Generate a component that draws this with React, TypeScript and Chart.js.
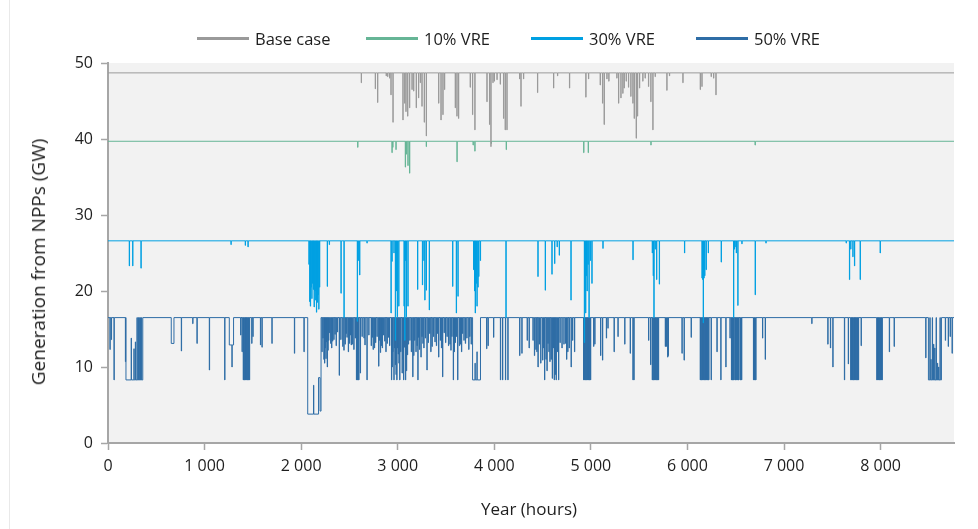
import React, { useEffect, useRef } from "react";
import { Chart, registerables } from "chart.js";

Chart.register(...registerables);

const HOURS = 8760;
const SPIKE_HOURS = 3;

const SERIES_NAMES = ["Base case", "10% VRE", "30% VRE", "50% VRE"];
const SERIES_COLORS = ["#9a9a9a", "#66b596", "#00a0e2", "#2e6da6"];
const BASE_LEVELS = [48.7, 39.7, 26.6, 16.5];

const X_TICKS = [0, 1000, 2000, 3000, 4000, 5000, 6000, 7000, 8000];
const Y_TICKS = [0, 10, 20, 30, 40, 50];

const X_TITLE = "Year (hours)";
const Y_TITLE = "Generation from NPPs (GW)";

// [hour, value] = short dip; [startHour, endHour, value] = sustained level
type Ev = number[];

const BASE_CASE_DIPS: Ev[] = [
  [2622, 47.4], [2767, 46.6], [2791, 44.8], [2880, 48.3], [2895, 48.2], [2915, 48.0], [2929, 45.8], [2950, 42.2],
  [3053, 42.5], [3071, 44.7], [3084, 43.6], [3102, 43.0], [3122, 44.1], [3147, 46.5], [3164, 46.3], [3191, 44.1],
  [3215, 45.4], [3233, 47.4], [3250, 44.3], [3274, 42.2], [3295, 40.4],
  [3423, 44.7], [3447, 42.5], [3467, 43.2], [3484, 46.5],
  [3595, 44.1], [3612, 43.0], [3629, 42.7],
  [3750, 46.8], [3774, 43.2], [3798, 41.2],
  [3923, 44.9], [3950, 41.9], [3964, 39.0], [3985, 47.4], [3999, 47.6], [4027, 47.8], [4061, 47.2],
  [4095, 42.7], [4112, 41.2], [4130, 41.2],
  [4261, 47.9], [4275, 44.3], [4302, 47.9],
  [4447, 46.1], [4613, 46.7], [4654, 48.3], [4778, 46.7],
  [4947, 45.5], [4975, 47.9],
  [5096, 47.1], [5120, 44.7], [5137, 41.9], [5165, 47.9], [5185, 47.6],
  [5268, 48.0], [5286, 44.7], [5310, 45.4], [5330, 46.0], [5344, 46.7], [5365, 47.6], [5389, 46.8],
  [5413, 45.6], [5434, 44.7], [5448, 42.7], [5469, 40.1], [5482, 43.0], [5503, 46.7],
  [5537, 47.6], [5561, 48.0], [5596, 46.9], [5620, 44.9], [5641, 41.2], [5665, 48.2],
  [5786, 46.4], [5813, 48.3], [5952, 47.4], [6132, 46.5], [6149, 46.9], [6245, 48.2], [6270, 48.0], [6294, 45.8],
];

const VRE10_DIPS: Ev[] = [
  [2585, 38.9], [2940, 38.2], [2948, 38.9], [2981, 38.6], [3078, 36.3], [3090, 38.0], [3105, 36.5], [3122, 35.5],
  [3295, 39.0], [3613, 37.0], [3780, 39.2], [3798, 38.4], [3968, 39.4], [4123, 38.6], [4925, 38.2], [4972, 38.2],
  [5621, 39.2], [6700, 39.2],
];

const VRE30_DIPS: Ev[] = [
  [220, 23.3], [255, 23.3], [341, 23.0], [1273, 26.1], [1421, 26.0], [1449, 25.8],
  [2080, 23.5], [2088, 18.6], [2095, 18.0], [2102, 20.5], [2110, 19.0], [2118, 21.0], [2126, 20.2], [2134, 17.9],
  [2142, 20.0], [2150, 18.8], [2158, 17.2], [2166, 18.5], [2174, 19.5], [2182, 17.6], [2190, 20.5],
  [2270, 20.6], [2291, 26.1], [2412, 19.7], [2443, 16.5], [2581, 16.0], [2590, 24.0], [2605, 22.1], [2681, 26.3],
  [2930, 17.1], [2940, 23.9], [2960, 25.0], [2975, 13.5], [2985, 20.0], [2995, 16.6], [3010, 18.0],
  [3065, 18.0], [3072, 13.5], [3080, 24.0], [3088, 16.6], [3105, 18.0], [3205, 20.2],
  [3255, 20.8], [3270, 24.0], [3280, 18.8], [3295, 20.1], [3326, 17.5],
  [3568, 20.6], [3606, 17.1], [3623, 19.3],
  [3785, 22.8], [3795, 20.0], [3802, 17.1], [3812, 21.0], [3820, 18.0], [3830, 20.5], [3838, 21.9], [3855, 24.0],
  [4120, 16.5],
  [4451, 21.9], [4527, 20.1], [4596, 22.2], [4624, 23.6], [4650, 25.8], [4672, 24.7], [4793, 18.8],
  [4932, 13.2], [4940, 20.0], [4945, 17.1], [4952, 22.0], [4960, 20.0], [4970, 23.5], [4980, 16.5], [4995, 24.0], [5010, 21.0],
  [5124, 25.6], [5435, 24.1],
  [5635, 25.0], [5645, 22.0], [5652, 16.5], [5665, 25.5], [5680, 21.5], [5708, 20.9],
  [5969, 25.0], [6150, 21.7], [6157, 21.5], [6163, 15.8], [6170, 21.7], [6178, 22.0], [6193, 22.8], [6215, 25.0],
  [6349, 23.8], [6477, 16.5], [6485, 25.5], [6492, 25.8], [6505, 25.0], [6521, 18.1], [6563, 26.2],
  [6701, 19.5], [6812, 26.3],
  [7643, 26.3], [7677, 21.5], [7690, 25.5], [7712, 24.5], [7729, 23.3], [7788, 21.5], [7995, 25.0],
];

const VRE50_DIPS: Ev[] = [
  [20, 12.3], [34, 13.6], [62, 8.3], [180, 10.7],
  [186, 360, 8.3], [240, 13.8], [268, 12.4], [283, 13.3], [300, 16.5], [312, 16.5], [322, 16.5], [334, 16.5], [346, 16.5],
  [655, 683, 13.1], [759, 12.1], [877, 15.7], [921, 13.1], [1049, 9.6], [1208, 8.3],
  [1256, 1300, 12.9], [1283, 10.0], [1373, 14.2], [1388, 12.0],
  [1400, 8.3], [1408, 8.3], [1416, 8.3], [1424, 8.3], [1432, 8.3], [1440, 8.3], [1448, 8.3], [1456, 8.3], [1464, 8.3],
  [1488, 13.1], [1500, 14.0], [1578, 12.9], [1594, 12.6], [1697, 13.1], [1930, 11.8], [2029, 12.0],
  [2068, 2190, 3.8], [2128, 7.6], [2180, 2196, 8.6], [2196, 2206, 4.2],
  [2215, 12.0], [2225, 13.8], [2235, 11.0], [2242, 10.5], [2249, 12.5], [2256, 11.1], [2263, 13.3], [2270, 10.0],
  [2277, 12.2], [2284, 13.5], [2292, 14.5], [2305, 13.1], [2315, 12.5], [2325, 13.4], [2338, 13.6], [2350, 14.3],
  [2362, 12.8], [2375, 14.6], [2394, 8.9], [2410, 13.6], [2430, 12.7], [2442, 12.2], [2455, 13.0], [2465, 14.4],
  [2474, 13.9], [2488, 12.0], [2500, 13.1], [2510, 14.2], [2518, 12.9], [2530, 13.0], [2545, 12.3], [2560, 13.8],
  [2572, 8.3], [2580, 8.3], [2588, 8.3], [2596, 8.3], [2612, 9.2], [2630, 14.0], [2650, 13.8], [2660, 12.9],
  [2681, 8.3], [2700, 14.2], [2725, 12.8], [2735, 13.9], [2745, 12.3], [2758, 12.5], [2770, 13.2], [2785, 14.0],
  [2802, 10.1], [2810, 13.5], [2820, 11.9], [2830, 12.8], [2840, 12.5], [2852, 14.2], [2865, 13.4], [2877, 12.0],
  [2890, 13.1], [2903, 13.9], [2915, 12.8],
  [2935, 8.3], [2942, 10.0], [2948, 12.0], [2960, 8.3], [2967, 12.5], [2975, 10.3], [2982, 9.0], [2990, 8.3],
  [2998, 12.5], [3005, 11.7], [3012, 10.5], [3020, 8.3], [3030, 12.0], [3045, 9.2], [3052, 11.0], [3060, 8.3],
  [3068, 12.6], [3080, 8.3], [3090, 9.5], [3100, 11.6], [3110, 13.0], [3125, 13.5], [3140, 12.0], [3155, 8.7],
  [3165, 11.5], [3175, 13.5], [3188, 12.0], [3200, 12.8], [3208, 8.3], [3215, 13.9], [3225, 12.3], [3240, 11.3],
  [3250, 14.0], [3260, 13.1], [3270, 12.5], [3285, 13.8], [3302, 9.6], [3315, 13.2], [3330, 14.4], [3342, 12.0],
  [3355, 12.7], [3370, 14.0], [3385, 13.3], [3400, 12.8], [3410, 14.4], [3423, 11.3], [3440, 13.5], [3452, 12.5],
  [3464, 8.7], [3480, 14.5], [3495, 13.2], [3510, 14.0], [3525, 12.8], [3540, 13.0], [3550, 12.2], [3560, 14.0],
  [3575, 8.3], [3585, 12.0], [3595, 13.2], [3608, 14.0], [3620, 8.3], [3638, 12.8], [3650, 13.0], [3660, 12.0],
  [3670, 14.4], [3685, 13.5], [3700, 13.1], [3715, 13.8], [3735, 12.3], [3745, 14.0], [3760, 13.0],
  [3775, 3857, 8.3], [3800, 10.5], [3820, 12.0],
  [3920, 12.4], [3935, 12.8], [3992, 13.9], [4063, 8.3], [4085, 8.3], [4115, 8.3], [4140, 8.3], [4262, 11.5], [4285, 11.8],
  [4340, 13.5], [4360, 12.5], [4400, 13.5], [4415, 11.5], [4430, 12.3], [4440, 12.0], [4452, 10.0], [4465, 13.0],
  [4480, 10.5], [4500, 10.9], [4510, 12.5], [4520, 8.3], [4535, 11.0], [4545, 9.5], [4555, 13.1], [4565, 12.0],
  [4575, 10.7], [4588, 11.0], [4600, 8.5], [4610, 12.5], [4620, 8.3], [4630, 9.0], [4640, 8.3], [4652, 12.0],
  [4665, 8.3], [4680, 13.2], [4700, 12.5], [4720, 13.0], [4738, 13.1], [4748, 11.0], [4760, 12.0], [4775, 12.5],
  [4795, 10.0], [4810, 13.5], [4830, 12.0],
  [4924, 8.3], [4932, 8.3], [4940, 8.3], [4948, 8.3], [4956, 8.3], [4964, 8.3], [4972, 8.3], [4980, 8.3], [4988, 8.3], [4996, 8.3],
  [5028, 12.7], [5040, 13.0], [5100, 11.5], [5120, 10.9], [5160, 13.8], [5176, 15.1], [5240, 12.0], [5280, 14.0],
  [5350, 13.0], [5407, 11.8], [5435, 8.3], [5445, 8.3],
  [5597, 13.5], [5618, 10.3],
  [5635, 8.3], [5643, 8.3], [5651, 8.3], [5659, 8.3], [5667, 8.3], [5675, 8.3], [5683, 8.3], [5691, 8.3], [5699, 8.3],
  [5770, 12.7], [5780, 12.7], [5795, 11.3], [5800, 11.5], [5943, 11.8], [5965, 10.9], [6038, 13.9],
  [6132, 8.3], [6140, 8.3], [6148, 8.3], [6156, 8.3], [6164, 8.3], [6172, 8.3], [6180, 8.3], [6188, 8.3], [6196, 8.3],
  [6204, 8.3], [6212, 8.3], [6220, 8.3],
  [6245, 8.3], [6305, 12.0], [6345, 8.3], [6397, 10.0], [6440, 13.8],
  [6455, 8.3], [6462, 8.3], [6468, 8.3], [6475, 8.3], [6480, 8.3], [6492, 8.3], [6498, 8.3], [6505, 8.3], [6518, 8.3],
  [6524, 8.3], [6530, 8.3], [6545, 8.3], [6552, 8.3], [6560, 8.3],
  [6683, 8.3], [6691, 8.3], [6699, 8.3], [6707, 8.3], [6777, 13.8], [6805, 11.0],
  [7287, 15.7], [7453, 13.0], [7480, 12.5], [7505, 10.0], [7625, 8.3], [7665, 10.4],
  [7690, 8.3], [7698, 8.3], [7706, 8.3], [7714, 8.3], [7722, 8.3], [7730, 8.3], [7738, 8.3], [7746, 8.3], [7754, 8.3],
  [7762, 8.3], [7770, 8.3], [7798, 12.8],
  [7960, 8.3], [7968, 8.3], [7976, 8.3], [7984, 8.3], [7992, 8.3], [8000, 8.3], [8008, 8.3], [8015, 8.3],
  [8090, 12.0], [8140, 12.7],
  [8467, 11.2], [8495, 8630, 8.3], [8510, 16.5], [8520, 11.0], [8535, 16.5], [8548, 13.0], [8560, 12.5],
  [8575, 16.5], [8588, 10.5], [8600, 10.0], [8615, 16.5],
  [8670, 13.5], [8700, 12.7], [8720, 14.0], [8740, 11.8],
];

const SERIES_EVENTS = [BASE_CASE_DIPS, VRE10_DIPS, VRE30_DIPS, VRE50_DIPS];

function buildSteps(base: number, events: Ev[]) {
  const vals: number[] = new Array(HOURS + 1).fill(base);
  for (const e of events) {
    if (e.length === 3) {
      for (let h = e[0]; h < e[1] && h <= HOURS; h++) vals[h] = e[2];
    }
  }
  for (const e of events) {
    if (e.length === 2) {
      for (let h = e[0]; h < e[0] + SPIKE_HOURS && h <= HOURS; h++) vals[h] = e[1];
    }
  }
  // change points: value y holds from x until the next point
  const pts: { x: number; y: number }[] = [{ x: 0, y: vals[0] }];
  for (let h = 1; h <= HOURS; h++) {
    if (vals[h] !== vals[h - 1]) pts.push({ x: h, y: vals[h] });
  }
  pts.push({ x: HOURS, y: vals[HOURS] });
  return pts;
}

function fmtThousands(v: number) {
  if (v < 1000) return String(v);
  const th = Math.floor(v / 1000);
  const rest = String(v % 1000).padStart(3, "0");
  return `${th} ${rest}`;
}

const FONT = "'Open Sans', 'Noto Sans', sans-serif";
const AXIS_COLOR = "#a6a6a6";
const TEXT_COLOR = "#1e1e1e";
const LEGEND_X = [197, 366, 531, 696];

const plotBg = {
  id: "plotBg",
  beforeDraw(chart: any) {
    const { ctx, chartArea } = chart;
    if (!chartArea) return;
    ctx.save();
    ctx.fillStyle = "#f2f2f2";
    ctx.fillRect(chartArea.left, chartArea.top, chartArea.right - chartArea.left, chartArea.bottom - chartArea.top);
    ctx.restore();
  },
};

export default function App() {
  const canvasRef = useRef<HTMLCanvasElement | null>(null);

  useEffect(() => {
    if (!canvasRef.current) return;
    const datasets = SERIES_NAMES.map((name, i) => ({
      label: name,
      data: buildSteps(BASE_LEVELS[i], SERIES_EVENTS[i]),
      borderColor: SERIES_COLORS[i],
      backgroundColor: SERIES_COLORS[i],
      borderWidth: 1,
      pointRadius: 0,
      stepped: "before" as const,
      fill: false,
      tension: 0,
    }));
    const chart = new Chart(canvasRef.current, {
      type: "line",
      data: { datasets },
      plugins: [plotBg],
      options: {
        animation: false,
        responsive: false,
        maintainAspectRatio: false,
        layout: { padding: { left: 0, right: 24, top: 63, bottom: 0 } },
        plugins: { legend: { display: false }, tooltip: { enabled: false }, title: { display: false } },
        scales: {
          x: {
            type: "linear",
            min: 0,
            max: HOURS,
            afterBuildTicks: (s: any) => {
              s.ticks = X_TICKS.map((v) => ({ value: v }));
            },
            afterFit: (s: any) => {
              s.height = 86;
            },
            grid: { drawOnChartArea: false, drawTicks: true, tickLength: 7, tickColor: AXIS_COLOR, tickWidth: 1.5 },
            border: { color: AXIS_COLOR, width: 2 },
            ticks: {
              autoSkip: false,
              maxRotation: 0,
              padding: 7,
              color: TEXT_COLOR,
              font: { family: FONT, size: 16 },
              callback: (v: any) => fmtThousands(Number(v)),
            },
          },
          y: {
            type: "linear",
            min: 0,
            max: 50,
            afterBuildTicks: (s: any) => {
              s.ticks = Y_TICKS.map((v) => ({ value: v }));
            },
            afterFit: (s: any) => {
              s.width = 108;
            },
            grid: { drawOnChartArea: false, drawTicks: true, tickLength: 7, tickColor: AXIS_COLOR, tickWidth: 1.5 },
            border: { color: AXIS_COLOR, width: 2 },
            ticks: {
              padding: 8,
              color: TEXT_COLOR,
              font: { family: FONT, size: 16 },
            },
          },
        },
      } as any,
    });
    return () => chart.destroy();
  }, []);

  return (
    <div style={{ position: "absolute", left: 0, top: 0, width: 978, height: 529, background: "#fff", overflow: "hidden" }}>
      <div style={{ position: "absolute", left: 9, top: 0, width: 1, height: 529, background: "#e9e9e9" }} />
      <canvas ref={canvasRef} width={978} height={529} style={{ position: "absolute", left: 0, top: 0, width: 978, height: 529 }} />
      {SERIES_NAMES.map((name, i) => (
        <div
          key={name}
          style={{ position: "absolute", left: LEGEND_X[i], top: 27, height: 22, display: "flex", alignItems: "center" }}
        >
          <div style={{ width: 52, height: 3, background: SERIES_COLORS[i], marginRight: 6 }} />
          <span style={{ fontFamily: FONT, fontSize: 16.5, color: TEXT_COLOR, whiteSpace: "nowrap" }}>{name}</span>
        </div>
      ))}
      <div
        style={{
          position: "absolute",
          left: 38,
          top: 262,
          transform: "translate(-50%, -50%) rotate(-90deg)",
          fontFamily: FONT,
          fontSize: 19,
          color: TEXT_COLOR,
          whiteSpace: "nowrap",
        }}
      >
        {Y_TITLE}
      </div>
      <div
        style={{
          position: "absolute",
          left: 529,
          top: 508,
          transform: "translate(-50%, -50%)",
          fontFamily: FONT,
          fontSize: 17,
          color: TEXT_COLOR,
          whiteSpace: "nowrap",
        }}
      >
        {X_TITLE}
      </div>
    </div>
  );
}
